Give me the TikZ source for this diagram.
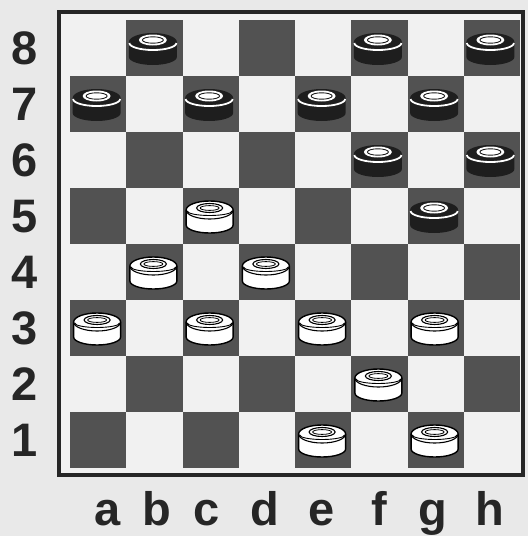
\documentclass[tikz,border=0pt]{standalone}
\usepackage{fontspec}
\setmainfont{Liberation Sans}
\definecolor{paper}{HTML}{E9E9E9}
\definecolor{lightsq}{HTML}{F1F1F1}
\definecolor{darksq}{HTML}{525252}
\definecolor{manblack}{HTML}{1E1E1E}
\tikzset{
  lbl/.style={font=\fontsize{47}{47}\bfseries\selectfont, text=black!85, inner sep=0pt, anchor=base},
  blackman/.pic={
    \path[fill=manblack] (-24,-6) -- (-24,9) arc[start angle=180,end angle=0,x radius=24,y radius=8]
       -- (24,-6) arc[start angle=0,end angle=-180,x radius=24,y radius=9] -- cycle;
    \draw[white,line width=1.8] (-23.5,-5) arc[start angle=180,end angle=0,x radius=23.5,y radius=7];
    \fill[white] (0,-8) ellipse[x radius=14,y radius=5.5];
    \draw[manblack,line width=0.9] (0,-8) ellipse[x radius=10.5,y radius=3.2];
  },
  whiteman/.pic={
    \path[fill=white,draw=black,line width=1.4] (-23.5,-6) -- (-23.5,9) arc[start angle=180,end angle=0,x radius=23.5,y radius=8]
       -- (23.5,-6) arc[start angle=0,end angle=-180,x radius=23.5,y radius=9] -- cycle;
    \draw[black,line width=1.1] (-23.5,-6) arc[start angle=180,end angle=0,x radius=23.5,y radius=9];
    \draw[black,line width=0.9] (-22.5,-5) arc[start angle=180,end angle=0,x radius=22.5,y radius=4.5];
    \draw[black,line width=1.1] (0,-8) ellipse[x radius=13,y radius=4.5];
    \draw[black,line width=0.8] (0,-8) ellipse[x radius=9.5,y radius=2.4];
  }
}
\begin{document}
\begin{tikzpicture}[x=1pt,y={(0pt,-1pt)}]
\useasboundingbox (0,0) rectangle (528,536);
\fill[paper] (0,0) rectangle (528,536);
\fill[lightsq] (61,14) rectangle (522,473);
% squares
\foreach \c in {1,...,8}{
  \foreach \r in {1,...,8}{
    \pgfmathtruncatemacro\pr{mod(\c+\r,2)}
    \pgfmathsetmacro\xa{70+(\c-1)*56.25}
    \pgfmathsetmacro\ya{20+(8-\r)*56}
    \ifnum\pr=0
      \fill[darksq] (\xa,\ya) rectangle ++(56.25,56);
    \fi
  }
}
% frame
\draw[black!85,line width=4.5] (59,12) rectangle (523,475);
% pieces
\foreach \c/\r in {2/8,6/8,8/8,1/7,3/7,5/7,7/7,6/6,8/6,7/5}{
  \pic at ({70+(\c-0.5)*56.25-1.5},{20+(8.5-\r)*56}) {blackman};
}
\foreach \c/\r in {3/5,2/4,4/4,1/3,3/3,5/3,7/3,6/2,5/1,7/1}{
  \pic at ({70+(\c-0.5)*56.25-1},{20+(8.5-\r)*56}) {whiteman};
}
% rank labels
\foreach \r in {1,...,8}{
  \node[lbl] (rank\r) at (25,{20+(8.5-\r)*56+16}) {\r};
}
% file labels
\foreach \f/\x in {a/108,b/157,c/207,d/265,e/322,f/379,g/433,h/490}{
  \node[lbl] (file\f) at (\x,525) {\f};
}
\end{tikzpicture}
\end{document}
